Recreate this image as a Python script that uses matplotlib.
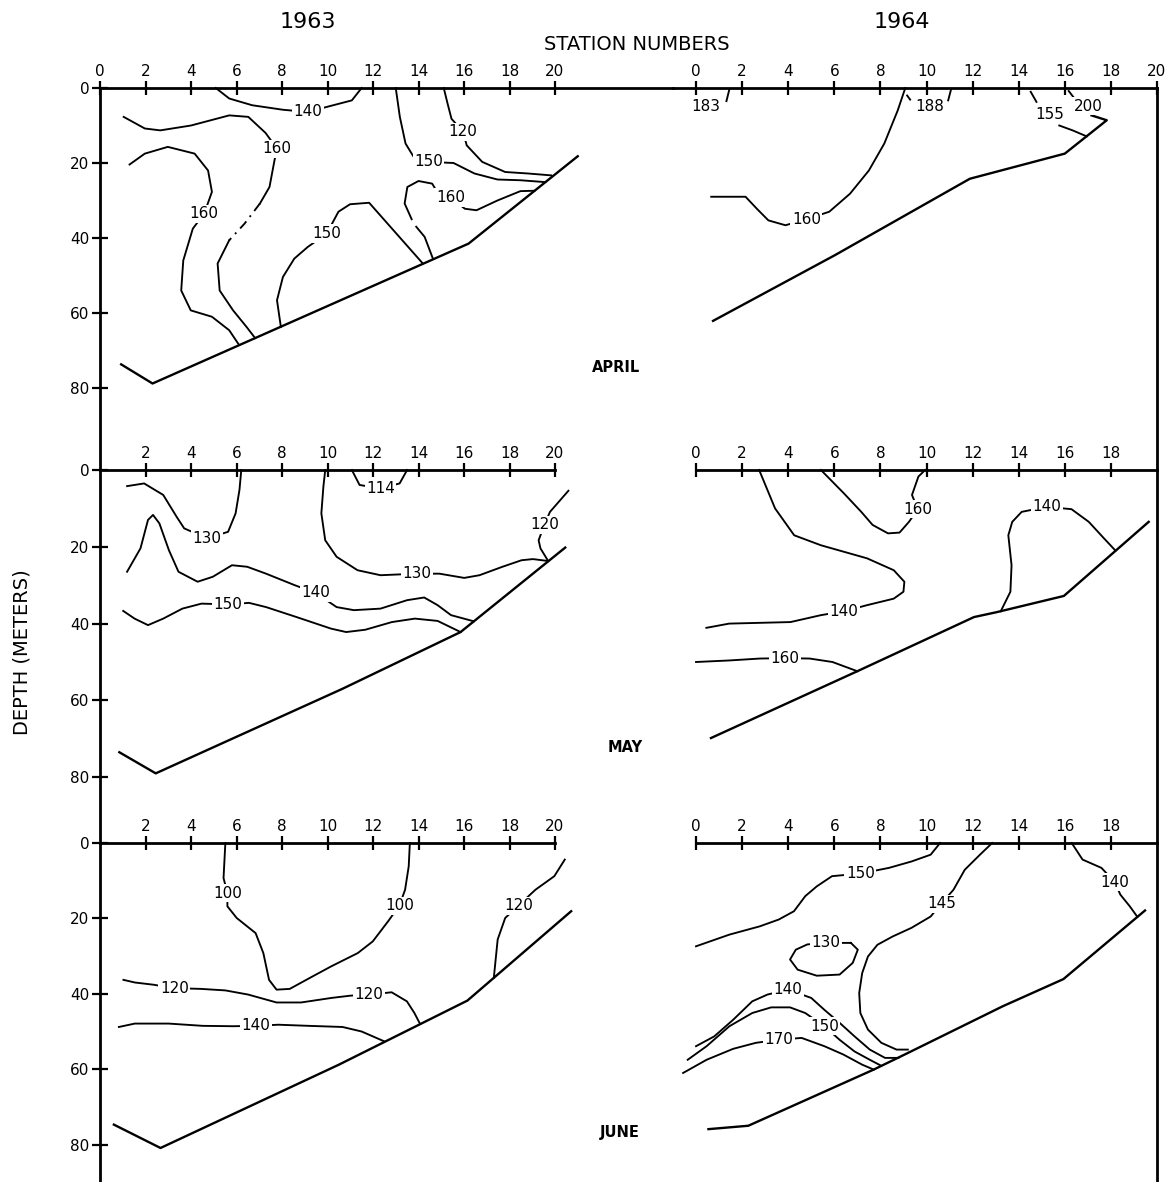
import matplotlib
matplotlib.use('Agg')
import matplotlib.pyplot as plt

plt.rcParams['font.family'] = ['DejaVu Sans']

# ---- data: (station, depth m) ----
# 1963 April
apr63_bottom = [(0.93, 73.7), (2.31, 78.8), (16.2, 41.5), (21.0, 18.2)]
apr63_c140 = [(5.09, 0.0), (5.68, 2.8), (6.69, 4.6), (8.04, 5.8), (9.13, 6.4), (10.06, 4.9), (11.07, 3.3), (11.5, 0.0)]
apr63_c160a = [(1.04, 7.7), (1.97, 10.8), (2.65, 11.3), (4.0, 10.0), (5.68, 7.3), (6.52, 7.7), (7.28, 12.0),
               (7.78, 16.2), (7.67, 19.3), (7.45, 26.4), (7.03, 30.8)]
apr63_c160a_dash = [(7.03, 30.8), (6.35, 36.2), (5.68, 40.6)]
apr63_c160a_low = [(5.68, 40.6), (5.17, 46.8), (5.26, 54.0), (5.85, 59.3), (6.44, 63.7), (6.82, 66.7)]
apr63_c160b = [(1.3, 20.4), (1.97, 17.5), (2.98, 15.7), (4.16, 17.5), (4.75, 22.0), (4.92, 27.7), (4.58, 33.5),
               (4.08, 37.5), (3.66, 46.0), (3.57, 54.0), (3.99, 59.3), (4.92, 61.0), (5.68, 64.6), (6.1, 68.4)]
apr63_c150a = [(7.95, 63.7), (7.78, 56.6), (8.04, 50.4), (8.54, 45.5), (9.13, 42.4), (9.97, 38.8), (10.48, 33.0),
               (10.99, 31.0), (11.83, 30.6), (14.19, 46.8)]
apr63_c160c_low = [(14.64, 45.6), (14.27, 39.7), (13.9, 37.0)]
apr63_c160c = [(13.7, 35.0), (13.39, 30.8), (13.51, 26.4), (14.0, 24.8), (14.6, 25.5), (14.78, 27.3), (15.4, 29.2),
               (16.04, 32.2), (16.55, 32.6), (17.47, 30.0), (18.48, 27.5), (19.1, 27.4)]
apr63_c150b = [(13.0, 0.0), (13.18, 7.7), (13.43, 14.8), (13.77, 18.2), (14.44, 19.7), (15.54, 20.0), (16.46, 22.8),
               (17.47, 24.4), (18.48, 24.6), (19.58, 25.1)]
apr63_c120 = [(15.11, 0.0), (15.28, 4.2), (15.45, 8.2), (15.96, 11.7), (16.12, 15.3), (16.8, 19.7), (17.81, 22.4),
              (18.82, 22.8), (19.83, 23.3)]
apr63_labels = [('140', 9.13, 6.4), ('160', 7.78, 16.2), ('160', 4.58, 33.5), ('150', 9.97, 38.8),
                ('160', 15.4, 29.2), ('150', 14.44, 19.7), ('120', 15.96, 11.7)]

# 1964 April
apr64_bottom = [(0.74, 62.1), (6.02, 44.6), (11.88, 24.2), (16.0, 17.5), (17.82, 8.6), (17.16, 7.3)]
apr64_c160 = [(9.08, 0.0), (8.75, 6.0), (8.17, 14.8), (7.5, 22.0), (6.68, 28.2), (5.78, 33.0), (4.79, 35.0),
              (3.88, 36.6), (3.14, 35.3), (2.64, 32.2), (2.15, 29.0), (1.57, 29.0), (0.66, 29.0)]
apr64_c_tip = [(15.76, 10.0), (16.34, 11.3), (16.95, 12.9)]
apr64_t183 = [(1.45, 0.3), (1.32, 3.5)]
apr64_t188a = [(9.16, 2.0), (9.29, 3.1)]
apr64_t188b = [(11.06, 0.5), (10.94, 3.3)]
apr64_t155 = [(14.52, 1.0), (14.77, 3.7)]
apr64_t200 = [(16.17, 0.8), (16.42, 2.8)]
apr64_labels = [('183', 0.41, 4.9), ('188', 10.12, 4.9), ('155', 15.35, 7.1), ('200', 17.0, 4.9),
                ('160', 4.79, 35.0)]

# 1963 May
may63_bottom = [(0.85, 73.5), (2.45, 79.0), (10.65, 57.0), (15.85, 42.2), (20.45, 20.2)]
may63_c114 = [(11.07, 0.0), (11.41, 3.9), (12.33, 4.8), (13.17, 3.5), (13.5, 0.0)]
may63_c130a = [(1.19, 4.2), (1.94, 3.5), (2.78, 6.5), (3.37, 12.2), (3.7, 15.2), (4.7, 17.8), (5.63, 16.1),
               (5.96, 11.3), (6.13, 5.2), (6.21, 0.0)]
may63_c140 = [(1.19, 26.5), (1.78, 20.4), (2.11, 13.0), (2.33, 11.7), (2.61, 13.9), (3.03, 20.9), (3.45, 26.5),
              (4.29, 29.1), (4.96, 27.8), (5.8, 24.8), (6.47, 25.2), (7.3, 27.0), (8.56, 30.0), (9.48, 32.0),
              (10.4, 35.7), (11.16, 36.5), (12.33, 36.1), (13.5, 33.9), (14.25, 33.2), (14.84, 35.2),
              (15.43, 37.8), (16.43, 39.4)]
may63_c150 = [(1.02, 36.7), (1.52, 38.7), (2.11, 40.4), (2.78, 38.7), (3.62, 36.1), (4.46, 34.8), (5.63, 35.0),
              (6.55, 34.6), (7.3, 35.7), (8.64, 38.3), (10.15, 41.3), (10.82, 42.2), (11.66, 41.6), (12.83, 39.6),
              (13.84, 38.7), (14.84, 39.3), (15.85, 42.2)]
may63_c130b = [(9.9, 0.0), (9.82, 4.3), (9.73, 11.3), (9.9, 18.3), (10.4, 22.6), (11.32, 26.1), (12.33, 27.4),
               (13.92, 27.0), (14.92, 27.0), (16.01, 28.1), (16.68, 27.4), (17.69, 25.2), (18.53, 23.5),
               (19.03, 23.2), (19.7, 23.7)]
may63_c120 = [(20.59, 5.4), (19.78, 10.9), (19.53, 14.3), (19.28, 18.3), (19.36, 20.4), (19.7, 23.7)]
may63_labels = [('114', 12.33, 4.8), ('130', 4.7, 17.8), ('140', 9.48, 32.0), ('150', 5.63, 35.0),
                ('130', 13.92, 27.0), ('120', 19.53, 14.3)]

# 1964 May
may64_bottom = [(0.65, 69.8), (7.0, 52.4), (12.06, 38.3), (13.06, 37.0), (15.96, 32.8), (19.64, 13.5)]
may64_c140a = [(2.74, 0.0), (3.43, 10.0), (4.26, 17.0), (5.42, 19.6), (7.42, 23.0), (8.58, 26.1), (9.04, 29.1),
               (9.0, 31.7), (8.58, 33.5), (7.42, 35.2), (6.42, 36.8), (5.42, 37.8), (4.1, 39.6), (2.77, 39.8),
               (1.44, 40.0), (0.45, 41.1)]
may64_c160a = [(5.42, 0.0), (6.42, 6.1), (7.17, 10.9), (7.66, 14.3), (8.33, 16.5), (8.83, 16.3), (9.24, 13.5),
               (9.62, 10.2), (9.37, 6.5), (9.65, 1.7), (9.94, 0.0)]
may64_c160b = [(0.0, 50.0), (1.44, 49.6), (2.77, 49.1), (3.85, 49.0), (4.93, 49.1), (5.92, 50.0), (7.0, 52.4)]
may64_c140b = [(13.22, 36.8), (13.64, 31.7), (13.69, 24.8), (13.55, 17.0), (13.72, 13.5), (14.13, 10.9),
               (15.21, 9.6), (16.29, 10.2), (17.04, 13.5), (17.7, 17.8), (18.2, 21.0)]
may64_labels = [('140', 6.42, 36.8), ('160', 9.62, 10.2), ('160', 3.85, 49.0), ('140', 15.21, 9.6)]

# 1963 June
jun63_bottom = [(0.61, 74.7), (2.66, 80.9), (10.5, 58.8), (16.15, 41.8), (20.71, 18.1)]
jun63_c100 = [(5.51, 0.0), (5.43, 9.3), (5.6, 13.3), (5.6, 16.8), (6.01, 19.9), (6.84, 23.9), (7.18, 29.2),
              (7.43, 36.3), (7.76, 38.9), (8.34, 38.7), (9.34, 35.4), (10.17, 32.7), (11.33, 29.2), (11.99, 26.1),
              (12.66, 20.8), (13.16, 16.6), (13.41, 12.4), (13.57, 6.2), (13.62, 0.0)]
jun63_c120a = [(20.43, 4.4), (19.97, 8.8), (19.14, 12.4), (18.39, 16.6), (17.81, 19.9), (17.48, 25.6),
               (17.31, 35.8)]
jun63_c120b = [(1.03, 36.3), (1.53, 37.0), (2.36, 37.6), (3.27, 38.5), (4.44, 38.7), (5.51, 39.1), (6.51, 40.2),
               (7.76, 42.3), (8.84, 42.3), (10.17, 41.1), (11.0, 40.5), (11.83, 40.2), (12.82, 39.6),
               (13.49, 42.0), (13.82, 45.1), (14.07, 48.0)]
jun63_c140 = [(0.83, 48.8), (1.53, 47.9), (3.02, 47.9), (4.52, 48.5), (5.85, 48.6), (6.84, 48.5), (7.84, 48.2),
              (9.17, 48.5), (10.66, 48.8), (11.5, 50.0), (12.49, 52.6)]
jun63_labels = [('100', 5.6, 13.3), ('100', 13.16, 16.6), ('120', 18.39, 16.6), ('120', 3.27, 38.5),
                ('120', 11.83, 40.2), ('140', 6.84, 48.5)]

# 1964 June
jun64_bottom = [(0.54, 75.9), (2.27, 75.0), (7.71, 60.1), (9.19, 55.7), (13.31, 43.3), (15.94, 36.1),
                (19.48, 17.9)]
jun64_c150a = [(10.59, 0.0), (10.18, 3.1), (9.35, 4.9), (8.37, 6.6), (7.13, 8.1), (5.9, 8.8), (5.24, 11.5),
               (4.74, 14.1), (4.25, 18.1), (3.59, 20.3), (2.77, 22.1), (1.45, 24.3), (0.0, 27.4)]
jun64_c145 = [(12.85, 0.0), (12.32, 3.1), (11.66, 7.1), (11.17, 12.4), (10.64, 16.1), (10.18, 19.5), (9.35, 22.5),
              (8.53, 24.8), (7.87, 27.0), (7.46, 30.1), (7.21, 34.5), (7.08, 39.8), (7.13, 45.1), (7.46, 49.5),
              (8.04, 53.0), (8.7, 54.8), (9.19, 54.8)]
jun64_c140r = [(16.3, 0.0), (16.77, 4.4), (17.59, 6.6), (18.17, 10.4), (18.41, 13.7), (18.82, 16.8), (19.15, 19.6)]
jun64_c130 = [(6.72, 26.5), (7.02, 28.3), (6.8, 31.8), (6.23, 34.9), (5.24, 35.2), (4.41, 33.6), (4.08, 30.9),
              (4.33, 28.3), (4.83, 26.9), (5.65, 26.5), (6.72, 26.5)]
jun64_c140l = [(0.0, 53.9), (0.79, 51.3), (1.61, 46.9), (2.44, 42.0), (3.1, 40.2), (4.0, 38.9), (5.0, 41.1),
               (5.56, 44.2), (6.23, 47.7), (6.88, 51.3), (7.54, 54.8), (8.2, 57.0), (8.78, 57.0)]
jun64_c150 = [(-0.36, 57.5), (0.46, 53.9), (1.45, 48.6), (2.44, 45.1), (3.26, 43.6), (4.08, 43.6), (4.74, 45.1),
              (5.57, 48.6), (6.23, 52.2), (6.88, 55.3), (7.54, 57.5), (8.04, 59.1)]
jun64_c170 = [(-0.56, 61.0), (0.46, 57.5), (1.61, 54.6), (2.6, 53.0), (3.59, 52.2), (4.58, 51.7), (5.57, 53.9),
              (6.39, 56.1), (7.21, 58.8), (7.71, 60.1)]
jun64_labels = [('150', 7.13, 8.1), ('145', 10.64, 16.1), ('140', 18.17, 10.4), ('130', 5.65, 26.5),
                ('140', 4.0, 38.9), ('150', 5.57, 48.6), ('170', 3.59, 52.2)]

depth_ticks = [0, 20, 40, 60, 80]
station_ticks = [0, 2, 4, 6, 8, 10, 12, 14, 16, 18, 20]

# ---- layout in pixels ----
W, H = 1176, 1182
fig = plt.figure(figsize=(W / 100, H / 100), dpi=100)

LEFT_X0, LEFT_PPS = 100, 22.75     # station 0 pixel, pixels per station
RIGHT_X0, RIGHT_PPS = 696, 23.05
rows = [(88, 3.75, 470), (470, 3.84, 843), (843, 3.77, 1182)]  # depth-0 px, px per m, bottom px


def make_ax(col, row):
    y0, ppm, y1 = rows[row]
    if col == 0:
        xmin, xmax = 0, 25.2
        x0, pps = LEFT_X0, LEFT_PPS
    else:
        xmin, xmax = -1, 20
        x0, pps = RIGHT_X0, RIGHT_PPS
    px0 = x0 + xmin * pps
    px1 = x0 + xmax * pps
    ax = fig.add_axes([px0 / W, 1 - y1 / H, (px1 - px0) / W, (y1 - y0) / H])
    ax.set_xlim(xmin, xmax)
    ax.set_ylim((y1 - y0) / ppm, 0)
    ax.patch.set_visible(False)
    for sp in ax.spines.values():
        sp.set_visible(False)
        sp.set_linewidth(2.0)
    top = ax.spines['top']
    top.set_visible(True)
    if row == 0:
        top.set_bounds(xmin, xmax)
    else:
        top.set_bounds(0, 20)
    ax.xaxis.tick_top()
    if col == 0:
        ticks = station_ticks if row == 0 else station_ticks[1:]
    else:
        ticks = station_ticks if row == 0 else station_ticks[:-1]
    ax.set_xticks(ticks)
    ax.set_xticklabels([str(t) for t in ticks])
    ax.tick_params(axis='x', direction='inout', length=10, width=1.6, pad=1.5, labelsize=11)
    if col == 0:
        ax.spines['left'].set_visible(True)
        ax.set_yticks(depth_ticks)
        ax.set_yticklabels([str(t) for t in depth_ticks])
        ax.tick_params(axis='y', direction='inout', length=12, width=1.6, pad=1.5, labelsize=11)
    else:
        ax.set_yticks([])
        ax.spines['right'].set_visible(True)
    return ax


def line(ax, pts, lw=1.35, ls='-'):
    s = [p[0] for p in pts]
    d = [p[1] for p in pts]
    ax.plot(s, d, color='black', lw=lw, ls=ls, clip_on=False, solid_joinstyle='round')


def labels(ax, labs):
    for txt, s, d in labs:
        ax.text(s, d, txt, ha='center', va='center', fontsize=11, zorder=5, clip_on=False,
                bbox=dict(boxstyle='square,pad=0.1', fc='white', ec='none'))


ax = make_ax(0, 0)
line(ax, apr63_bottom, lw=1.7)
for c in [apr63_c140, apr63_c160a, apr63_c160a_low, apr63_c160b, apr63_c150a, apr63_c160c_low,
          apr63_c160c, apr63_c150b, apr63_c120]:
    line(ax, c)
line(ax, apr63_c160a_dash, ls=(0, (5, 3, 1, 3)))
labels(ax, apr63_labels)

ax = make_ax(1, 0)
line(ax, apr64_bottom, lw=1.7)
for c in [apr64_c160, apr64_c_tip, apr64_t183, apr64_t188a, apr64_t188b, apr64_t155, apr64_t200]:
    line(ax, c)
labels(ax, apr64_labels)

ax = make_ax(0, 1)
line(ax, may63_bottom, lw=1.7)
for c in [may63_c114, may63_c130a, may63_c140, may63_c150, may63_c130b, may63_c120]:
    line(ax, c)
labels(ax, may63_labels)

ax = make_ax(1, 1)
line(ax, may64_bottom, lw=1.7)
for c in [may64_c140a, may64_c160a, may64_c160b, may64_c140b]:
    line(ax, c)
labels(ax, may64_labels)

ax = make_ax(0, 2)
line(ax, jun63_bottom, lw=1.7)
for c in [jun63_c100, jun63_c120a, jun63_c120b, jun63_c140]:
    line(ax, c)
labels(ax, jun63_labels)

ax = make_ax(1, 2)
line(ax, jun64_bottom, lw=1.7)
for c in [jun64_c150a, jun64_c145, jun64_c140r, jun64_c130, jun64_c140l, jun64_c150, jun64_c170]:
    line(ax, c)
labels(ax, jun64_labels)

# ---- titles and captions ----
fig.text(308 / W, 1 - 22 / H, '1963', ha='center', va='center', fontsize=16)
fig.text(902 / W, 1 - 22 / H, '1964', ha='center', va='center', fontsize=16)
fig.text(637 / W, 1 - 44 / H, 'STATION NUMBERS', ha='center', va='center', fontsize=14)
fig.text(22 / W, 1 - 652 / H, 'DEPTH (METERS)', ha='center', va='center', rotation=90, fontsize=14)
fig.text(616 / W, 1 - 368 / H, 'APRIL', ha='center', va='center', fontsize=10.5, fontweight='bold')
fig.text(625 / W, 1 - 748 / H, 'MAY', ha='center', va='center', fontsize=10.5, fontweight='bold')
fig.text(620 / W, 1 - 1132 / H, 'JUNE', ha='center', va='center', fontsize=10.5, fontweight='bold')

fig.savefig('out.png', dpi=100, facecolor='white')
